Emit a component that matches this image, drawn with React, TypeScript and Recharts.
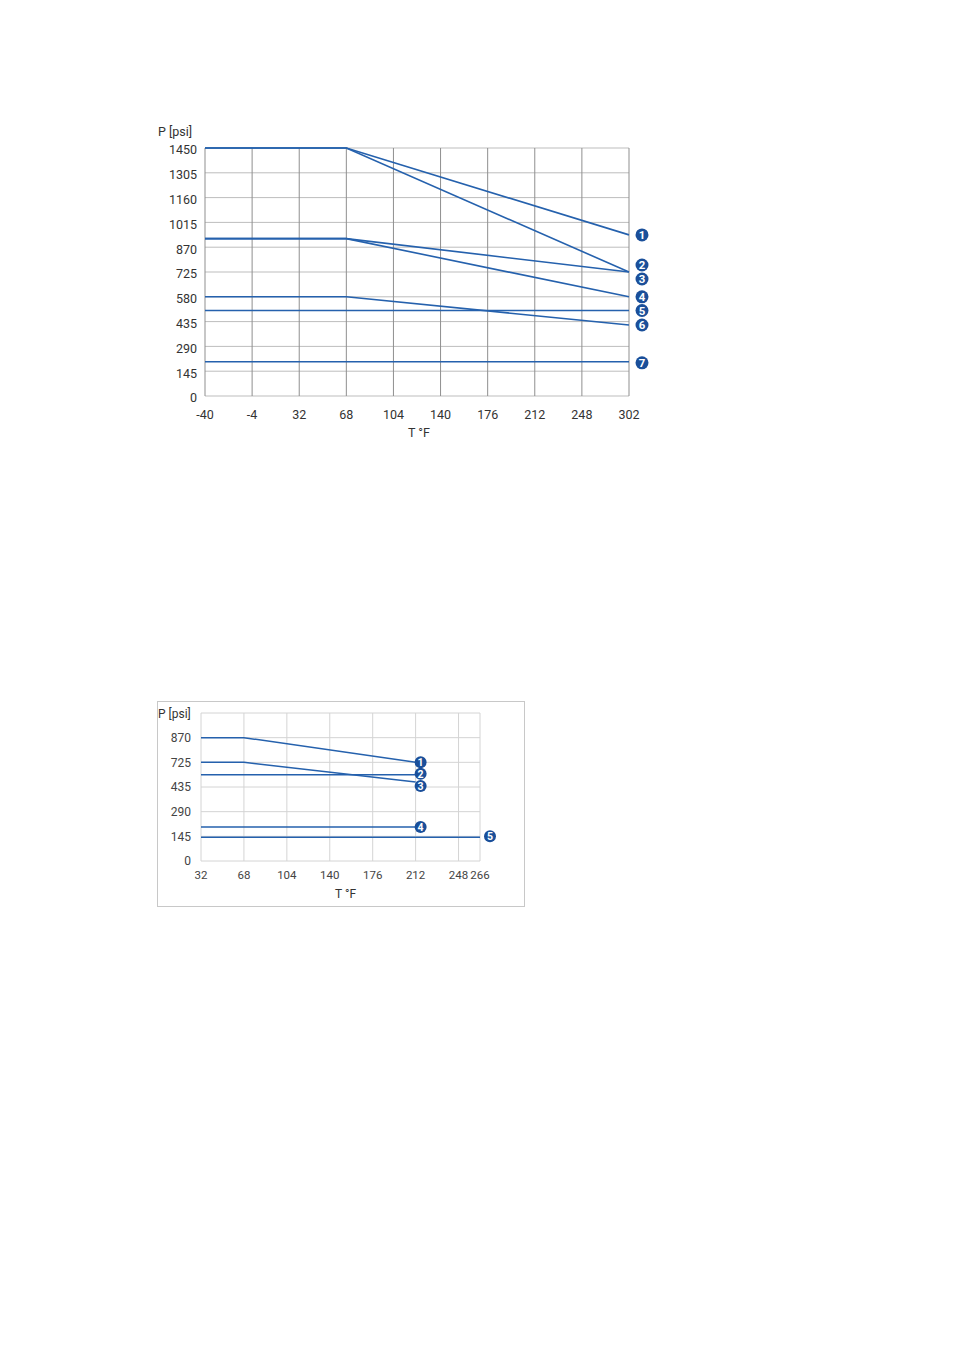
import { CartesianGrid, Line, LineChart, XAxis, YAxis } from 'recharts'

const FONT = 'Roboto, "DejaVu Sans", sans-serif'
const LINE_BLUE = '#2561ad'
const MARK_BLUE = '#1a4f9a'

// chart 1: the temperature axis is evenly spaced, so points sit on tick slots
const tempLabels1 = ['-40', '-4', '32', '68', '104', '140', '176', '212', '248', '302']
const pressTicks1 = [0, 145, 290, 435, 580, 725, 870, 1015, 1160, 1305, 1450]
const bends1 = ['-40', '68', '302']
const curve1 = [1450, 1450, 942]
const curve2 = [1450, 1450, 725]
const curve3 = [920, 920, 725]
const curve4 = [920, 920, 580]
const curve5 = [500, 500, 500]
const curve6 = [580, 580, 415]
const curve7 = [200, 200, 200]

// chart 2: printed labels skip 580, so tick slots carry these labels
const tempTicks2 = [32, 68, 104, 140, 176, 212, 248, 266]
const pressTicks2 = [0, 145, 290, 435, 580, 725, 870]
const pressLabels2 = ['0', '145', '290', '435', '725', '870', '']
const bends2 = [32, 68, 212]
const bends2Long = [32, 266]
const lower1 = [725, 725, 580]
const lower2 = [507, 507, 507]
const lower3 = [580, 580, 464]
const lower4 = [200, 200, 200]
const lower5 = [140, 140]

const toPoints1 = (vals: number[]) =>
  vals.map((p, i) => ({ t: tempLabels1.indexOf(bends1[i]), p }))

const toPoints2 = (temps: number[], vals: number[]) =>
  vals.map((p, i) => ({ t: temps[i], p }))

function marker(n: number, last: number, dx: number, dy: number, r: number) {
  return (props: any) => {
    const { x, y, index } = props
    if (index !== last) return null
    const cx = x + dx
    const cy = y + dy
    return (
      <g key={'m' + n}>
        <circle cx={cx} cy={cy} r={r} fill={MARK_BLUE} />
        <text
          x={cx}
          y={cy}
          dy="0.36em"
          textAnchor="middle"
          fill="#fff"
          fontSize={r * 1.75}
          fontWeight="bold"
          fontFamily={FONT}
        >
          {n}
        </text>
      </g>
    )
  }
}

const titleStyle = (left: number, top: number, size: number): React.CSSProperties => ({
  position: 'absolute',
  left,
  top,
  fontFamily: FONT,
  fontSize: size,
  color: '#333',
  whiteSpace: 'nowrap',
})

function TopChart() {
  const series = [curve1, curve2, curve3, curve4, curve5, curve6, curve7]
  const offsets = [0, -7, 7, 0, 0, 0, 1]
  return (
    <div style={{ position: 'absolute', left: 142, top: 112 }}>
      <LineChart width={520} height={330} margin={{ top: 28, right: 41, left: 0, bottom: 0 }}>
        <CartesianGrid stroke="#bdbdbd" vertical={false} />
        <CartesianGrid stroke="#8f8f8f" horizontal={false} />
        <XAxis
          dataKey="t"
          type="number"
          domain={[0, 9]}
          ticks={tempLabels1.map((_, i) => i)}
          tickFormatter={(v: number) => tempLabels1[v]}
          height={54}
          axisLine={false}
          tickLine={false}
          tickSize={0}
          tickMargin={14}
          tick={{ fill: '#333', fontSize: 12.5, fontFamily: FONT }}
          interval={0}
        />
        <YAxis
          dataKey="p"
          type="number"
          domain={[0, 1450]}
          ticks={pressTicks1}
          width={55}
          axisLine={false}
          tickLine={false}
          tickSize={0}
          tickMargin={8}
          tick={{ fill: '#333', fontSize: 12.5, fontFamily: FONT, dy: 2 }}
          interval={0}
        />
        {series.map((vals, i) => (
          <Line
            key={i}
            data={toPoints1(vals)}
            dataKey="p"
            type="linear"
            stroke={LINE_BLUE}
            strokeWidth={1.6}
            dot={false}
            isAnimationActive={false}
            label={marker(i + 1, vals.length - 1, 13, offsets[i], 6.5)}
          />
        ))}
      </LineChart>
      <div style={titleStyle(8, 4, 12.5)}>P [psi]</div>
      <div style={{ ...titleStyle(258, 305, 12.5) }}>T °F</div>
    </div>
  )
}

function BottomChart() {
  const series = [
    toPoints2(bends2, lower1),
    toPoints2(bends2, lower2),
    toPoints2(bends2, lower3),
    toPoints2(bends2, lower4),
    toPoints2(bends2Long, lower5),
  ]
  const offsets = [0, -1, 4, 0, -1]
  const dxs = [5, 5, 5, 5, 10]
  return (
    <div
      style={{
        position: 'absolute',
        left: 149,
        top: 693,
        width: 366,
        height: 204,
        border: '1px solid #c8c8c8',
      }}
    >
      <LineChart width={366} height={204} margin={{ top: 11, right: 44, left: 0, bottom: 0 }}>
        <CartesianGrid stroke="#d4d4d4" />
        <XAxis
          dataKey="t"
          type="number"
          domain={[32, 266]}
          ticks={tempTicks2}
          height={45}
          axisLine={false}
          tickLine={false}
          tickSize={0}
          tickMargin={10}
          tick={{ fill: '#444', fontSize: 11.5, fontFamily: FONT }}
          interval={0}
        />
        <YAxis
          dataKey="p"
          type="number"
          domain={[0, 870]}
          ticks={pressTicks2}
          tickFormatter={(v: number) => pressLabels2[pressTicks2.indexOf(v)]}
          width={43}
          axisLine={false}
          tickLine={false}
          tickSize={0}
          tickMargin={10}
          tick={{ fill: '#444', fontSize: 12, fontFamily: FONT }}
          interval={0}
        />
        {series.map((pts, i) => (
          <Line
            key={i}
            data={pts}
            dataKey="p"
            type="linear"
            stroke={LINE_BLUE}
            strokeWidth={1.5}
            dot={false}
            isAnimationActive={false}
            label={marker(i + 1, pts.length - 1, dxs[i], offsets[i], 6)}
          />
        ))}
      </LineChart>
      <div style={titleStyle(0, 5, 12)}>P [psi]</div>
      <div style={titleStyle(177, 185, 12)}>T °F</div>
    </div>
  )
}

export default function App() {
  return (
    <div style={{ position: 'relative', width: 938, height: 1334 }}>
      <TopChart />
      <BottomChart />
    </div>
  )
}
